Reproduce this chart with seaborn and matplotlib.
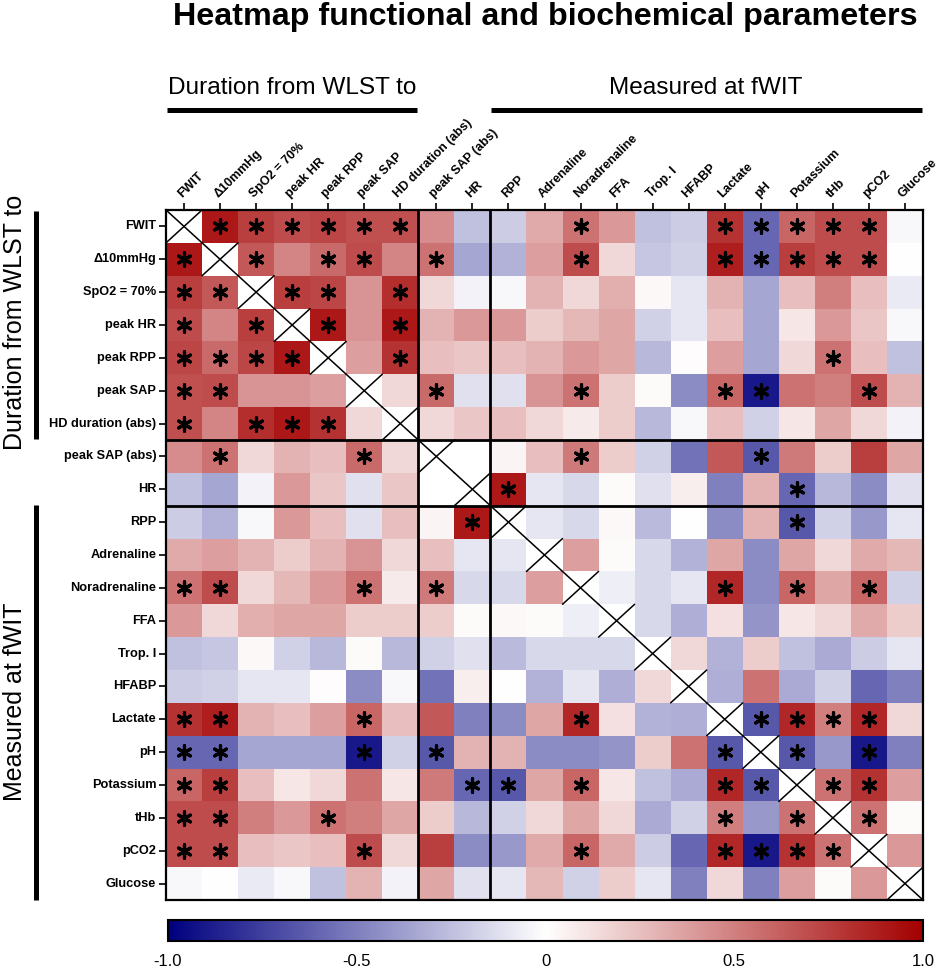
import numpy as np
import pandas as pd
import matplotlib
matplotlib.use('Agg')
import matplotlib.pyplot as plt
from matplotlib.colors import LinearSegmentedColormap
from matplotlib.lines import Line2D
import seaborn as sns

labels = ['FWIT', 'Δ10mmHg', 'SpO2 = 70%', 'peak HR', 'peak RPP', 'peak SAP',
          'HD duration (abs)', 'peak SAP (abs)', 'HR', 'RPP', 'Adrenaline',
          'Noradrenaline', 'FFA', 'Trop. I', 'HFABP', 'Lactate', 'pH',
          'Potassium', 'tHb', 'pCO2', 'Glucose']

nan = np.nan
# lower triangle of the correlation matrix, one list per row (row 2..21)
r_d10 = [0.90]
r_spo2 = [0.75, 0.65]
r_peak_hr = [0.70, 0.48, 0.75]
r_peak_rpp = [0.72, 0.58, 0.72, 0.90]
r_peak_sap = [0.68, 0.70, 0.42, 0.42, 0.38]
r_hd = [0.68, 0.48, 0.82, 0.90, 0.80, 0.15]
r_sap_abs = [0.45, 0.55, 0.15, 0.30, 0.25, 0.58, 0.15]
r_hr = [-0.25, -0.35, -0.05, 0.40, 0.22, -0.12, 0.22, nan]
r_rpp = [-0.20, -0.30, -0.03, 0.40, 0.25, -0.12, 0.25, 0.04, 0.90]
r_adr = [0.33, 0.38, 0.30, 0.20, 0.30, 0.42, 0.15, 0.25, -0.10, -0.10]
r_nor = [0.55, 0.70, 0.15, 0.28, 0.40, 0.55, 0.08, 0.52, -0.15, -0.15, 0.38]
r_ffa = [0.40, 0.15, 0.32, 0.35, 0.35, 0.20, 0.20, 0.20, 0.02, 0.03, 0.02,
         -0.07]
r_trop = [-0.25, -0.22, 0.03, -0.18, -0.28, 0.02, -0.28, -0.18, -0.12, -0.27,
          -0.15, -0.15, -0.15]
r_hfabp = [-0.20, -0.18, -0.10, -0.10, 0.01, -0.45, -0.03, -0.55, 0.07, 0.0,
           -0.30, -0.10, -0.32, 0.15]
r_lac = [0.80, 0.88, 0.30, 0.25, 0.38, 0.60, 0.25, 0.65, -0.50, -0.45, 0.35,
         0.85, 0.12, -0.30, -0.32]
r_ph = [-0.60, -0.60, -0.35, -0.35, -0.35, -0.90, -0.18, -0.65, 0.30, 0.30,
        -0.45, -0.45, -0.42, 0.20, 0.55, -0.65]
r_k = [0.60, 0.75, 0.25, 0.10, 0.15, 0.55, 0.10, 0.52, -0.60, -0.65, 0.35,
       0.60, 0.10, -0.25, -0.33, 0.85, -0.65]
r_thb = [0.70, 0.70, 0.50, 0.40, 0.55, 0.50, 0.35, 0.20, -0.28, -0.18, 0.15,
         0.35, 0.15, -0.33, -0.18, 0.50, -0.40, 0.55]
r_pco2 = [0.70, 0.70, 0.25, 0.22, 0.25, 0.70, 0.15, 0.75, -0.45, -0.40, 0.33,
          0.60, 0.33, -0.20, -0.60, 0.85, -0.90, 0.80, 0.55]
r_glu = [-0.03, 0.0, -0.08, -0.03, -0.25, 0.30, -0.05, 0.35, -0.12, -0.10,
         0.28, -0.18, 0.20, -0.10, -0.50, 0.15, -0.50, 0.38, 0.02, 0.40]

lower_rows = [r_d10, r_spo2, r_peak_hr, r_peak_rpp, r_peak_sap, r_hd,
              r_sap_abs, r_hr, r_rpp, r_adr, r_nor, r_ffa, r_trop, r_hfabp,
              r_lac, r_ph, r_k, r_thb, r_pco2, r_glu]

# significant pairs (row, col) in the lower triangle, 0-based
sig_pairs = [(1, 0), (2, 0), (2, 1), (3, 0), (3, 2), (4, 0), (4, 1), (4, 2),
             (4, 3), (5, 0), (5, 1), (6, 0), (6, 2), (6, 3), (6, 4), (7, 1),
             (7, 5), (9, 8), (11, 0), (11, 1), (11, 5), (11, 7), (15, 0),
             (15, 1), (15, 5), (15, 11), (16, 0), (16, 1), (16, 5), (16, 7),
             (16, 15), (17, 0), (17, 1), (17, 8), (17, 9), (17, 11), (17, 15),
             (17, 16), (18, 0), (18, 1), (18, 4), (18, 15), (18, 17), (19, 0),
             (19, 1), (19, 5), (19, 11), (19, 15), (19, 16), (19, 17),
             (19, 18)]

# build the symmetric matrix
n = len(labels)
mat = np.full((n, n), np.nan)
for i, row in enumerate(lower_rows, start=1):
    for j, v in enumerate(row):
        mat[i, j] = v
        mat[j, i] = v
df = pd.DataFrame(mat, index=labels, columns=labels)

sig = np.zeros((n, n), dtype=bool)
for i, j in sig_pairs:
    sig[i, j] = True
    sig[j, i] = True

sns.set_style('white')
plt.rcParams['font.family'] = ['Liberation Sans', 'DejaVu Sans']
for key in ['text.color', 'axes.labelcolor', 'xtick.color', 'ytick.color']:
    plt.rcParams[key] = 'black'

cmap = LinearSegmentedColormap.from_list(
    'bwr_dark', ['#00007F', '#FFFFFF', '#A30000'])

fig = plt.figure(figsize=(9.48, 9.74), dpi=100)
W, H = 948, 974


def fx(px):
    return px / W


def fy(py):
    return 1 - py / H


ax = fig.add_axes([fx(166), fy(900), fx(923) - fx(166), fy(210) - fy(900)])
cax = fig.add_axes([fx(168), fy(941), fx(923) - fx(168), fy(920) - fy(941)])

sns.heatmap(df, ax=ax, cmap=cmap, vmin=-1, vmax=1, cbar_ax=cax,
            cbar_kws={'orientation': 'horizontal',
                      'ticks': [-1, -0.5, 0, 0.5, 1]},
            linewidths=0, square=False)
ax.set_facecolor('white')

# asterisks for significant correlations
ys, xs = np.where(sig)
ax.scatter(xs + 0.5, ys + 0.5, marker=(6, 2, 0), s=95, color='black',
           linewidths=2.3, zorder=5)

# crosses on the diagonal
for i in range(n):
    ax.plot([i, i + 1], [i, i + 1], color='black', lw=1.1, zorder=4)
    ax.plot([i, i + 1], [i + 1, i], color='black', lw=1.1, zorder=4)

# group separators
for b in [7, 9]:
    ax.axvline(b, color='black', lw=2)
    ax.axhline(b, color='black', lw=2)

for s in ax.spines.values():
    s.set_visible(True)
    s.set_linewidth(1.6)
    s.set_color('black')

ax.xaxis.tick_top()
ax.set_xticks(np.arange(n) + 0.5)
ax.set_yticks(np.arange(n) + 0.5)
ax.set_xticklabels(labels, rotation=45, ha='left', va='bottom',
                   rotation_mode='anchor', fontsize=9, fontweight='bold')
ax.set_yticklabels(labels, rotation=0, fontsize=9.2, fontweight='bold')
ax.tick_params(axis='both', direction='out', length=5, width=1.2,
               color='black', pad=2)
ax.tick_params(axis='x', top=True, bottom=False)
ax.tick_params(axis='y', left=True)
ax.set_xlabel('')
ax.set_ylabel('')

# colorbar styling
cbar = ax.collections[0].colorbar
cbar.outline.set_linewidth(1.5)
cbar.outline.set_edgecolor('black')
cax.set_xticklabels(['-1.0', '-0.5', '0', '0.5', '1.0'])
cax.tick_params(axis='x', direction='in', length=5, width=1.2, top=True,
                bottom=True, labelsize=12, pad=9, color='black')

# title and group labels
fig.text(fx(545), fy(17), 'Heatmap functional and biochemical parameters',
         ha='center', va='center', fontsize=23.2, fontweight='bold')
fig.text(fx(292), fy(88), 'Duration from WLST to', ha='center', va='center',
         fontsize=17.6)
fig.text(fx(706), fy(88), 'Measured at fWIT', ha='center', va='center',
         fontsize=17.6)
fig.text(fx(15), fy(322), 'Duration from WLST to', ha='center', va='center',
         fontsize=18, rotation=90)
fig.text(fx(15), fy(702), 'Measured at fWIT', ha='center', va='center',
         fontsize=18, rotation=90)

bar_lw = 3.6
fig.add_artist(Line2D([fx(167), fx(417)], [fy(110), fy(110)], color='black',
                      lw=bar_lw, solid_capstyle='butt'))
fig.add_artist(Line2D([fx(491), fx(922)], [fy(110), fy(110)], color='black',
                      lw=bar_lw, solid_capstyle='butt'))
fig.add_artist(Line2D([fx(36), fx(36)], [fy(211), fy(439)], color='black',
                      lw=bar_lw, solid_capstyle='butt'))
fig.add_artist(Line2D([fx(36), fx(36)], [fy(505), fy(900)], color='black',
                      lw=bar_lw, solid_capstyle='butt'))

plt.savefig('out.png', dpi=100)
plt.close()
